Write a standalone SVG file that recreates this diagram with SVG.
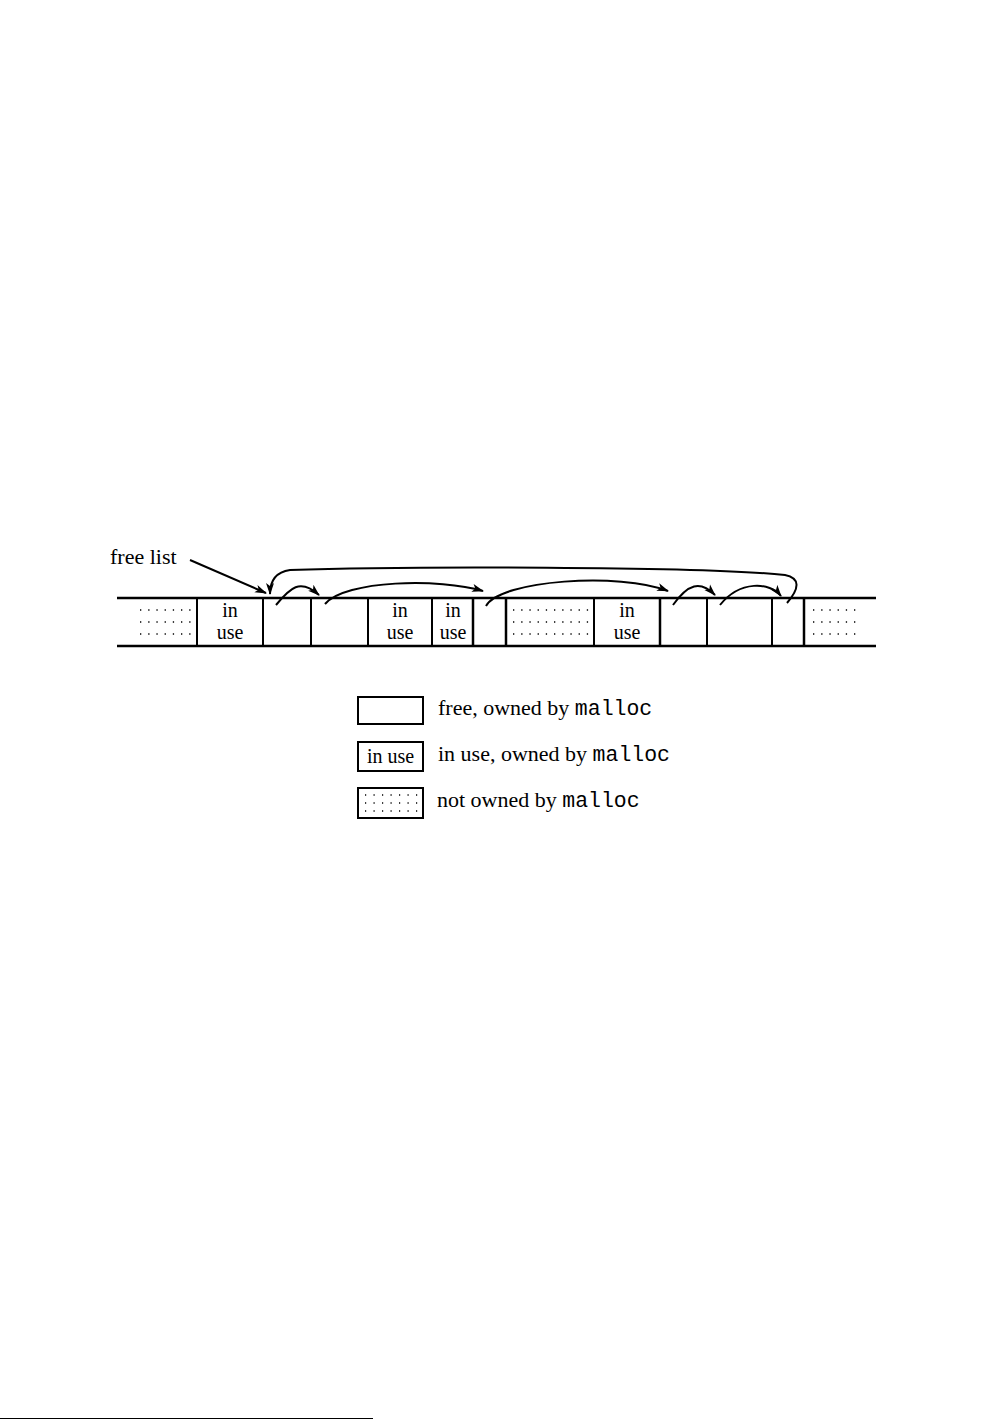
<svg xmlns="http://www.w3.org/2000/svg" width="987" height="1419" viewBox="0 0 987 1419">
<defs>
<marker id="ah" viewBox="0 0 12 10" refX="11" refY="5" markerWidth="12" markerHeight="10" markerUnits="userSpaceOnUse" orient="auto">
<path d="M0,1 L12,5 L0,9 L3,5 Z" fill="#000"/>
</marker>
</defs>
<style>
.t{font-family:"Liberation Serif",serif;font-size:20px;fill:#000}
.lt{font-family:"Liberation Serif",serif;font-size:22px;fill:#000}
.m{font-family:"Liberation Mono",monospace;font-size:21.5px}
.h{stroke:#000;stroke-width:2.5;fill:none}
.v{stroke:#000;stroke-width:2;fill:none}
.d{stroke:#000;stroke-width:1.3;stroke-dasharray:1.3 6.9;fill:none}
.a{stroke:#000;stroke-width:2;fill:none;marker-end:url(#ah)}
.b{stroke:#000;stroke-width:2;fill:#fff}
</style>
<rect width="987" height="1419" fill="#fff"/>
<g id="memory">
<line class="h" x1="117" y1="598" x2="876" y2="598"/>
<line class="h" x1="117" y1="646" x2="876" y2="646"/>
<g id="cells">
<line class="v" x1="197" y1="598" x2="197" y2="646"/>
<line class="v" x1="263" y1="598" x2="263" y2="646"/>
<line class="v" x1="311" y1="598" x2="311" y2="646"/>
<line class="v" x1="368" y1="598" x2="368" y2="646"/>
<line class="v" x1="432" y1="598" x2="432" y2="646"/>
<line class="v" x1="473" y1="598" x2="473" y2="646" style="stroke-width:2.5"/>
<line class="v" x1="506" y1="598" x2="506" y2="646" style="stroke-width:2.5"/>
<line class="v" x1="594" y1="598" x2="594" y2="646"/>
<line class="v" x1="660" y1="598" x2="660" y2="646" style="stroke-width:2.5"/>
<line class="v" x1="707" y1="598" x2="707" y2="646"/>
<line class="v" x1="772" y1="598" x2="772" y2="646"/>
<line class="v" x1="804" y1="598" x2="804" y2="646" style="stroke-width:2.5"/>
</g>
<g id="dots">
<path class="d" d="M140,610H192M140,622H192M140,634H192"/>
<path class="d" d="M513,610H590M513,622H590M513,634H590"/>
<path class="d" d="M813,610H857M813,622H857M813,634H857"/>
</g>
<g id="labels">
<text class="t" x="230" y="617" text-anchor="middle">in</text>
<text class="t" x="230" y="639" text-anchor="middle">use</text>
<text class="t" x="400" y="617" text-anchor="middle">in</text>
<text class="t" x="400" y="639" text-anchor="middle">use</text>
<text class="t" x="453" y="617" text-anchor="middle">in</text>
<text class="t" x="453" y="639" text-anchor="middle">use</text>
<text class="t" x="627" y="617" text-anchor="middle">in</text>
<text class="t" x="627" y="639" text-anchor="middle">use</text>
</g>
</g>
<g id="freelist-label">
<text class="lt" x="110" y="564">free list</text>
</g>
<g id="connectors">
<path class="a" d="M190,560 L266,593"/>
<path class="a" d="M787,603 C800,588 800,578 785,575 C700,566 400,566 290,570 C276,572 270,580 270,594"/>
<path class="a" d="M276,605 C290,588 300,578 319,595"/>
<path class="a" d="M325,604 C345,580 440,578 483,591"/>
<path class="a" d="M486,606 C500,580 620,572 668,591"/>
<path class="a" d="M673,605 C688,584 700,580 715,595"/>
<path class="a" d="M720,605 C740,580 770,582 781,596"/>
</g>
<g id="legend">
<g id="legend-free">
<rect class="b" x="358" y="697" width="65" height="27"/>
<text class="lt" x="438" y="715">free, owned by <tspan class="m">malloc</tspan></text>
</g>
<g id="legend-inuse">
<rect class="b" x="358" y="742" width="65" height="29"/>
<text class="t" x="390.5" y="763" text-anchor="middle">in use</text>
<text class="lt" x="438" y="761">in use, owned by <tspan class="m">malloc</tspan></text>
</g>
<g id="legend-notowned">
<rect class="b" x="358" y="788" width="65" height="30"/>
<path class="d" d="M365,795H420M365,803H420M365,811H420" style="stroke-dasharray:1.2 7.3"/>
<text class="lt" x="437" y="807">not owned by <tspan class="m">malloc</tspan></text>
</g>
</g>
<rect x="0" y="1418" width="373" height="1" fill="#000"/>
</svg>
